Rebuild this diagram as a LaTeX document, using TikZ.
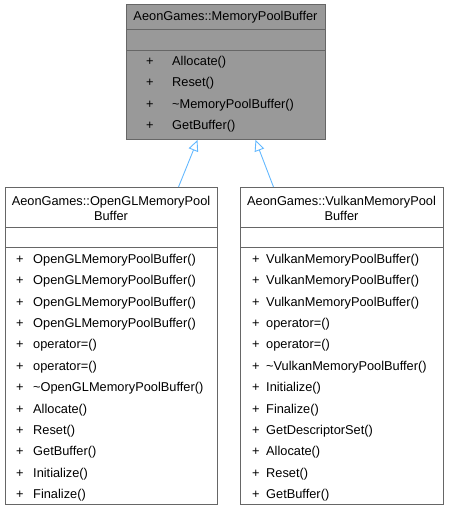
\documentclass[tikz,border=0pt]{standalone}
\usepackage{fontspec}
\setmainfont{Liberation Sans}
\usetikzlibrary{arrows.meta}

\definecolor{boxborder}{HTML}{666666}
\definecolor{basefill}{HTML}{999999}
\definecolor{edgeblue}{HTML}{63B8FF}

\begin{document}
\begin{tikzpicture}[x=1pt, y=-1pt,
  classbox/.style={draw=boxborder, line width=1pt, anchor=north west, inner sep=0pt},
  sepline/.style={draw=boxborder, line width=1pt},
  member/.style={anchor=west, inner sep=0pt, font=\fontsize{12.8}{15}\selectfont},
  classtitle/.style={inner sep=0pt, align=center, font=\fontsize{12.8}{15}\selectfont},
  inherit/.style={draw=edgeblue, line width=0.9pt, -{Triangle[open, length=11pt, width=10pt]}}]
  \useasboundingbox (0,0) rectangle (449,512);

  % Base class
  \node[classbox, fill=basefill, minimum width=199pt, minimum height=135pt] (base) at (126,4) {};
  \draw[sepline] (126,29) -- (325,29);
  \draw[sepline] (126,50) -- (325,50);
  \node[classtitle] (basename) at (225.5,17) {AeonGames::MemoryPoolBuffer};
  \node[member] (b1) at (146,62) {\makebox[26pt][l]{+}Allocate()};
  \node[member] (b2) at (146,83.5) {\makebox[26pt][l]{+}Reset()};
  \node[member] (b3) at (146,105) {\makebox[26pt][l]{+}\textasciitilde MemoryPoolBuffer()};
  \node[member] (b4) at (146,126.5) {\makebox[26pt][l]{+}GetBuffer()};

  % OpenGL class
  \node[classbox, fill=white, minimum width=212pt, minimum height=317pt] (gl) at (5,187) {};
  \draw[sepline] (5,227) -- (217,227);
  \draw[sepline] (5,247) -- (217,247);
  \node[classtitle] (glname) at (111,208) {AeonGames::OpenGLMemoryPool\\Buffer};
  \node[member] (g1) at (16,260) {\makebox[17pt][l]{+}OpenGLMemoryPoolBuffer()};
  \node[member] (g2) at (16,281.4) {\makebox[17pt][l]{+}OpenGLMemoryPoolBuffer()};
  \node[member] (g3) at (16,302.8) {\makebox[17pt][l]{+}OpenGLMemoryPoolBuffer()};
  \node[member] (g4) at (16,324.2) {\makebox[17pt][l]{+}OpenGLMemoryPoolBuffer()};
  \node[member] (g5) at (16,345.6) {\makebox[17pt][l]{+}operator=()};
  \node[member] (g6) at (16,367) {\makebox[17pt][l]{+}operator=()};
  \node[member] (g7) at (16,388.4) {\makebox[17pt][l]{+}\textasciitilde OpenGLMemoryPoolBuffer()};
  \node[member] (g8) at (16,409.8) {\makebox[17pt][l]{+}Allocate()};
  \node[member] (g9) at (16,431.2) {\makebox[17pt][l]{+}Reset()};
  \node[member] (g10) at (16,452.6) {\makebox[17pt][l]{+}GetBuffer()};
  \node[member] (g11) at (16,474) {\makebox[17pt][l]{+}Initialize()};
  \node[member] (g12) at (16,495.4) {\makebox[17pt][l]{+}Finalize()};

  % Vulkan class
  \node[classbox, fill=white, minimum width=203pt, minimum height=317pt] (vk) at (240,187) {};
  \draw[sepline] (240,227) -- (443,227);
  \draw[sepline] (240,247) -- (443,247);
  \node[classtitle] (vkname) at (341.5,208) {AeonGames::VulkanMemoryPool\\Buffer};
  \node[member] (v1) at (252,260) {\makebox[14pt][l]{+}VulkanMemoryPoolBuffer()};
  \node[member] (v2) at (252,281.4) {\makebox[14pt][l]{+}VulkanMemoryPoolBuffer()};
  \node[member] (v3) at (252,302.8) {\makebox[14pt][l]{+}VulkanMemoryPoolBuffer()};
  \node[member] (v4) at (252,324.2) {\makebox[14pt][l]{+}operator=()};
  \node[member] (v5) at (252,345.6) {\makebox[14pt][l]{+}operator=()};
  \node[member] (v6) at (252,367) {\makebox[14pt][l]{+}\textasciitilde VulkanMemoryPoolBuffer()};
  \node[member] (v7) at (252,388.4) {\makebox[14pt][l]{+}Initialize()};
  \node[member] (v8) at (252,409.8) {\makebox[14pt][l]{+}Finalize()};
  \node[member] (v9) at (252,431.2) {\makebox[14pt][l]{+}GetDescriptorSet()};
  \node[member] (v10) at (252,452.6) {\makebox[14pt][l]{+}Allocate()};
  \node[member] (v11) at (252,474) {\makebox[14pt][l]{+}Reset()};
  \node[member] (v12) at (252,495.4) {\makebox[14pt][l]{+}GetBuffer()};

  % Inheritance
  \coordinate (gltop) at ([xshift=67pt]gl.north);
  \coordinate (vktop) at ([xshift=-68.5pt]vk.north);
  \coordinate (baseleft) at ([xshift=-28.5pt]base.south);
  \coordinate (baseright) at ([xshift=29.5pt]base.south);
  \draw[inherit] (gltop) -- (baseleft);
  \draw[inherit] (vktop) -- (baseright);

\end{tikzpicture}
\end{document}
